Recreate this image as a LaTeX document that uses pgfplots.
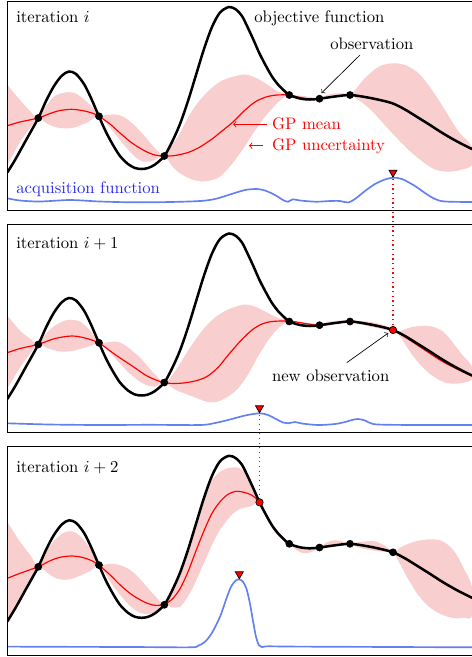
\documentclass[border=0pt]{standalone}
\usepackage{pgfplots}
\pgfplotsset{compat=1.18}
\usepackage{pgfplotstable}

\definecolor{bandpink}{RGB}{249,206,206}
\definecolor{acqblue}{RGB}{98,128,240}
\definecolor{acqtext}{RGB}{40,40,240}

% objective function (same in every iteration)
\pgfplotstableread{
x y
7.3 172.5
15 160
25 142
38.3 118
46 101
54 86
62 75.5
69 71.5
76 74
84 84
91 98
99 116.5
106 132
113 145
120 156
128 164
135 168
141.7 169
148 168
155 164.5
164.3 156
172 142
180 124
188 101
196 75
204 49
212 27
220 12.5
229 7
236 9.5
242 16
248 28
254 41
259.5 53.5
266 66
272 76.5
278 84.5
284 90.5
289.3 95
300 98.5
310 99.5
319.5 98.7
335 96.5
350 95
365 97
380 100
393 103.5
405 109.5
418 117.5
430 125
440 131.5
450 137.5
460 143
472 149
}\objective

% observations available at iteration i
\pgfplotstableread{
x y
38.3 118
99 116.3
164.3 156
289.3 95
319.5 98.7
350 95
}\observed

\pgfplotsset{
  panel/.style={
    scale only axis, width=278.82pt,
    xmin=7.3, xmax=472, y dir=reverse,
    hide axis, anchor=north west,
  },
  band/.style={fill=bandpink, draw=none, smooth},
  objective/.style={black, line width=1.5pt, smooth},
  gpmean/.style={red, line width=0.7pt, smooth},
  acq/.style={acqblue, line width=1pt, smooth},
  obs/.style={only marks, mark=*, mark size=2.1pt, black},
  newobs/.style={only marks, mark=*, mark size=2.2pt, mark options={fill=red, draw=black, line width=0.4pt}},
  nextpt/.style={only marks, mark=triangle*, mark size=2.8pt, mark options={rotate=180, fill=red, draw=black, line width=0.4pt}},
}

\begin{document}
\begin{tikzpicture}

% ---------------- iteration i ----------------
\begin{axis}[panel, name=p1, height=124.98pt, ymin=1.7, ymax=210, at={(4.38pt,-1.02pt)}]
% uncertainty band: upper edge left to right, lower edge right to left
\addplot[band] coordinates {
(7.3,85) (20,100) (30,111) (38.3,118) (46,106) (55,96) (66,92.3) (76,93.5) (86,101) (93,108) (99,116.3)
(106,115) (116,114.5) (124,117) (133,124) (140,131) (147,139) (153.3,146.5) (164.3,156)
(172,145) (180,133) (190,114) (200,100) (210,89.5) (220,81.7) (232,77) (245,74.5) (255,77.5) (265,83) (278,91.5) (289.3,95)
(297,95.5) (304,96) (312,97.5) (319.5,98.7) (327,95) (335,93.5) (343,93.5) (350,95)
(356,89) (365,78) (378.7,66.7) (392,63.3) (405,65) (418.7,73.3) (432,90) (445,110) (458.7,131.7) (472,146.7)
(472,165) (458,170.5) (445,171.5) (432,168) (412,153) (392,133) (372,111) (360,101) (350,95)
(343,96) (335,97) (327,97.5) (319.5,98.7) (312,100.5) (305,100.5) (297,98) (289.3,95)
(278.7,101.7) (265,116.7) (252,135) (245,146) (232,164) (220,176.7) (212,180) (203,181.5) (192,179.5) (180,173.3) (172,166) (164.3,156)
(153,160.5) (143,161.5) (133,155) (120,140) (107,124) (99,116.3)
(88,122) (76,127) (66,128.5) (55,127) (46,123) (38.3,118) (30,128) (20,142) (7.3,165)} -- cycle;
\addplot[gpmean] coordinates {
(7.3,125.7) (20,122) (38.3,118) (50,113.5) (60,110.5) (71.7,109.3) (82,110.5) (92,113) (99,116.3)
(110,124) (120,133) (132,143) (145,151) (155,155) (164.3,156) (175,155.5) (188,152.5) (200,147)
(212,139) (222,131) (233,122) (244,111) (255,102) (266,97) (277,95) (289.3,95) (298,97) (308,98.7)
(319.5,98.7) (327,97.5) (335,96.5) (343,95.3) (350,95) (360,96) (372,98.5) (385,101.5) (393,103.5)
(405,109.5) (418,117.5) (430,125) (440,131.5) (450,137.5) (460,143) (472,149)};
\addplot[objective] table {\objective};
\addplot[obs] table {\observed};
\addplot[acq] coordinates {
(7.3,198.3) (20,200.5) (40,201.5) (70,200) (100,201.5) (133,202.3) (170,202) (200,201) (215,199)
(230,194.5) (245,190) (256.7,189) (265,190.5) (275,195) (283,200) (288,201.7) (293,199.3) (300,200.5)
(316,201.7) (330,201) (340,201) (348,202.5) (355,199) (365,191) (375,184) (385,179.5) (393,177.7)
(402,179) (415,186) (425,193) (435,199) (445,201.5) (472,202)};
\addplot[nextpt] coordinates {(393,172.5)};
\node[anchor=base west, inner sep=0] at (axis cs:16,22.5) {iteration $i$};
\node[anchor=base west, inner sep=0] at (axis cs:254,22) {objective function};
\node[anchor=base west, inner sep=0] at (axis cs:330,49) {observation};
\draw[->, line width=0.4pt] (axis cs:360,55) -- (axis cs:321.5,93);
\node[anchor=base west, inner sep=0, red] at (axis cs:271.7,129.3) {GP mean};
\draw[->, red, line width=0.5pt] (axis cs:267,124.3) -- (axis cs:233,124.3);
\node[anchor=base west, inner sep=0, red] at (axis cs:271.7,150.7) {GP uncertainty};
\draw[->, red, line width=0.5pt] (axis cs:263.5,145.7) -- (axis cs:249,145.7);
\node[anchor=base west, inner sep=0, acqtext] at (axis cs:16,193.3) {acquisition function};
\coordinate (d1top) at (axis cs:393,179);
\end{axis}

% ---------------- iteration i+1 ----------------
\begin{axis}[panel, name=p2, height=124.56pt, ymin=-1.8, ymax=205.8, at={(4.38pt,-134.82pt)}]
\addplot[band] coordinates {
(7.3,89) (20,104) (30,112) (38.3,117.8) (46,107) (55,99) (65,94) (72,93.5) (80,95) (90,104) (99,116.5)
(106,116) (116,115) (124,118) (133,125) (140,131) (147,139) (155,148) (164.3,156.2)
(172,149) (182,134) (192,118) (204,102) (215,91) (226,84) (236,80) (245,78) (255,80) (265,85) (277,91) (289.3,94.5)
(297,95) (305,96) (312,97) (319.7,98.8) (327,95.5) (335,94.5) (343,94) (350.3,94.5)
(360,94.5) (370,95.5) (380,97.5) (388,100.5) (393,103.5)
(400,104.5) (410,101) (420,99.5) (432,100) (443,105) (452,115) (462,128) (472,140)
(472,153) (458,157) (445,156) (432,149) (422,140) (412,128) (400,110) (393,103.5)
(388,104) (380,102) (370,100) (360,97.5) (350.3,94.5)
(343,96) (335,97.5) (327,98.5) (319.7,98.8) (312,100) (305,99.5) (297,98) (289.3,94.5)
(278,102) (268,114) (258,130) (248,148) (238,162) (228,170) (218,175) (208,175.5) (198,172) (186,167.5) (175,163) (164.3,156.2)
(155,160) (145,158) (133,150) (120,137) (108,124) (99,116.5)
(92,119) (82,122) (72,124.5) (63,125.2) (55,124) (46,121) (38.3,117.8) (30,127) (20,141) (7.3,162)} -- cycle;
\addplot[gpmean] coordinates {
(7.3,126.2) (20,122) (38.3,117.8) (55,112) (71.7,109.5) (85,111.5) (99,116.5) (115,128) (133,140)
(148,150) (164.3,156.2) (180,156.8) (195,154.5) (207,150) (218,141) (227,130) (240,115) (252,103.5)
(262,97.5) (272,95) (289.3,94.5) (305,97) (319.7,98.8) (335,96.5) (350.3,94.5) (365,96.5) (380,99.5)
(393,103.5) (405,110.5) (418,119) (430,127) (440,133.5) (450,139) (460,144) (472,149.5)};
\addplot[objective] table {\objective};
\addplot[obs] table {\observed};
\addplot[newobs] coordinates {(393,103.5)};
\addplot[acq] coordinates {
(7.3,196.8) (50,198) (100,198.5) (150,198.3) (200,198.5) (215,196.5) (230,193) (245,189) (259.5,186.8)
(268,188.5) (276,192.5) (283,196) (288,196.8) (295,195.5) (302,197) (318,198.5) (335,197.5) (345,195.5)
(352,193.5) (358,192.5) (365,194) (373,197.5) (390,198.3) (430,198.5) (472,198.5)};
\addplot[nextpt] coordinates {(259.5,181.6)};
\node[anchor=base west, inner sep=0] at (axis cs:16,22.2) {iteration $i+1$};
\node[anchor=base west, inner sep=0] at (axis cs:271.7,154.8) {new observation};
\draw[->, line width=0.4pt] (axis cs:346.7,136.2) -- (axis cs:388.3,106.5);
\coordinate (d1bot) at (axis cs:393,103.5);
\coordinate (d2top) at (axis cs:259.5,188);
\end{axis}

% ---------------- iteration i+2 ----------------
\begin{axis}[panel, name=p3, height=124.98pt, ymin=-2.1, ymax=206.2, at={(4.38pt,-268.02pt)}]
\addplot[band] coordinates {
(7.3,73) (20,93) (30,106) (38.3,117.9) (46,103) (55,91) (66,83) (76,84) (86,94) (93,104) (99,116.5)
(106,115.5) (113,115) (122,117) (130,121) (138,128) (146,137) (155,147) (164.3,155.5)
(172,143) (180,124.5) (187,103) (193.3,81) (200,59) (206.7,41) (213,30) (220,23) (227,19.5) (234,18.5)
(240,19.5) (246,25) (252,34.5) (259.5,53.5)
(266,65) (272,75.5) (278,84) (284,90) (289.3,95)
(297,96.5) (305,98) (312,98.5) (319.5,98.7) (327,93.5) (334,91.5) (342,92.5) (350,95)
(358,93.5) (366,92.5) (375,92.5) (385,97) (393,103.5)
(400,99) (408,95) (418,92) (430,90.5) (440,91.5) (448,96) (456,105) (464,120) (472,138)
(472,167.5) (464,169) (456,169.5) (448,168) (438,164) (428,157) (418,146) (408,130) (400,115) (393,103.5)
(385,103) (375,102) (366,100.5) (358,98.5) (350,95)
(343,95.5) (335,96.5) (327,97.5) (319.5,98.7) (314,102) (309,104) (302,104) (296,101) (289.3,95)
(284,92.5) (278,87) (272,79) (266,69) (259.5,53.5)
(252,57) (246,58.5) (240,60) (233.3,64.5) (227,71.5) (220,81) (213,94) (206.7,108) (200,123) (193.3,138) (187,149) (180,158) (172,158.5) (164.3,155.5)
(156,162) (150,165) (144,165) (136,162) (128,155) (120,146) (113,137) (106,126) (99,116.5)
(92,121) (82,126) (72,130) (64,131) (55,129) (46,123) (38.3,117.9) (30,135) (20,152) (7.3,176)} -- cycle;
\addplot[gpmean] coordinates {
(7.3,129.5) (20,124.5) (38.3,117.9) (50,112) (60,108.5) (71.7,107.2) (82,108.5) (92,112) (99,116.5)
(110,126) (120,136) (132,146) (145,153.5) (155,156.5) (164.3,155.5) (172,150.5) (180,140) (188,123)
(196,102) (204,82) (212,64.5) (220,53) (228,45.5) (236,42.5) (244,43.5) (252,46.5) (259.5,53.5)
(266,66) (272,76.5) (278,84.5) (284,90.5) (289.3,95) (300,98.5) (310,99.5) (319.5,98.7) (335,96.5)
(350,95) (365,97) (380,100) (393,103.5) (405,110) (418,118) (430,125.5) (440,132) (450,138)
(460,143.5) (472,149.5)};
\addplot[objective] table {\objective};
\addplot[obs] table {\observed};
\addplot[obs] coordinates {(393,103.5)};
\addplot[newobs] coordinates {(259.5,53.5)};
\addplot[acq] coordinates {
(7.3,197.8) (60,198) (133,198.2) (190,198.5) (198,197) (205,193) (212,184) (220,168) (226,151)
(231,138) (235.5,132) (239.3,130.5) (243,133) (246.5,140) (250,155) (253,172) (256,188) (259,196.5)
(262,198.3) (268,197.5) (300,197.8) (472,198.5)};
\addplot[nextpt] coordinates {(239.3,125.3)};
\node[anchor=base west, inner sep=0] at (axis cs:16,23.2) {iteration $i+2$};
\coordinate (d2bot) at (axis cs:259.5,53.5);
\end{axis}

% frames (left, top and bottom sides)
\foreach \p in {p1,p2,p3}{
  \draw[line width=0.5pt] (\p.north east) -- (\p.north west) -- (\p.south west) -- (\p.south east);
}

% dotted links from the proposed point to the new observation
\draw[red, line width=0.7pt, dash pattern=on 0.7pt off 2.1pt, shorten >=2.3pt] (d1top) -- (d1bot);
\draw[red, line width=0.7pt, dash pattern=on 0.7pt off 2.1pt, shorten >=2.3pt] (d2top) -- (d2bot);

% page area
\pgfresetboundingbox
\useasboundingbox (0,0) rectangle (283.2pt,-394.2pt);
\end{tikzpicture}
\end{document}
